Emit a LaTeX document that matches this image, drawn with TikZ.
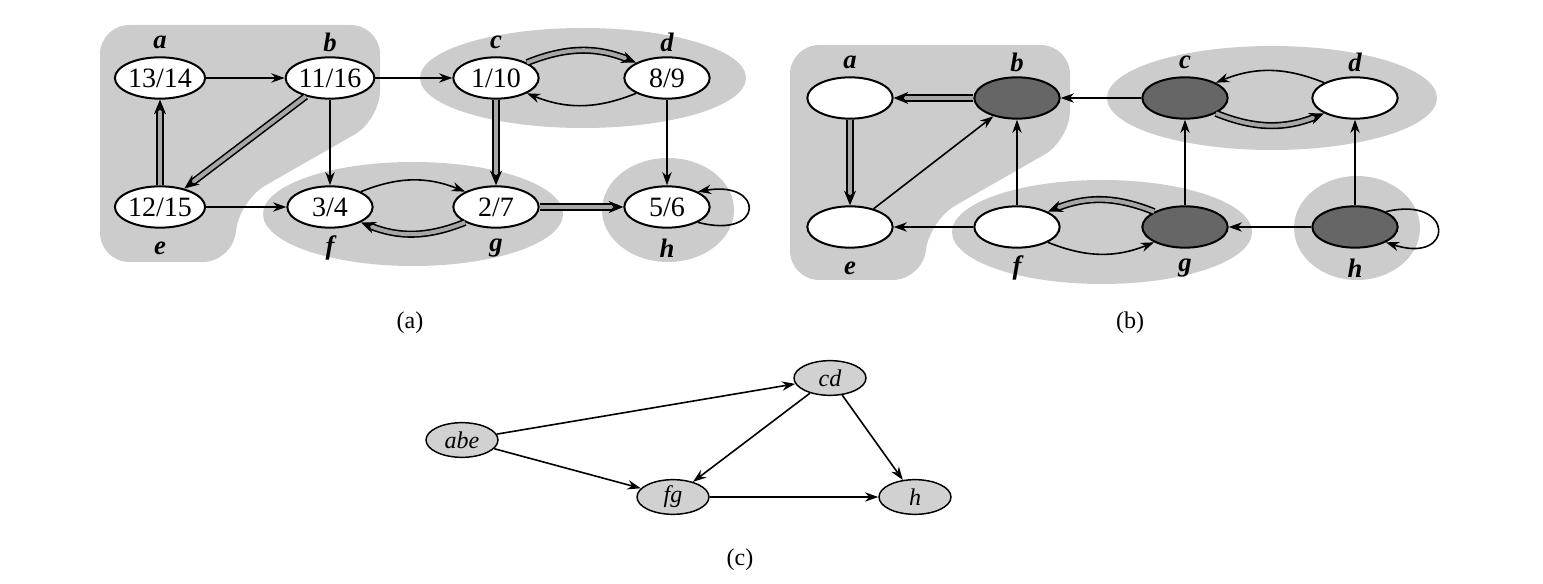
\documentclass[tikz,border=0pt]{standalone}
\usepackage{fontspec}
\setmainfont{Liberation Serif}
\usetikzlibrary{shapes.geometric,arrows.meta}
\begin{document}
\begin{tikzpicture}[x=0.75pt,y=-0.75pt,
  v/.style={ellipse,draw,line width=1.5pt,fill=white,minimum width=64pt,minimum height=31pt,inner sep=0pt,font=\fontsize{21}{24}\selectfont},
  vd/.style={v,fill=black!60},
  w/.style={ellipse,draw,line width=1.1pt,fill=black!18,minimum width=54pt,minimum height=26pt,inner sep=0pt,font=\fontsize{18}{20}\selectfont\itshape},
  lab/.style={font=\fontsize{20}{22}\selectfont\itshape\bfseries},
  captxt/.style={font=\fontsize{18}{20}\selectfont},
  e/.style={-{Stealth[length=10pt,width=7pt]},line width=1.2pt},
  t/.style={-{Stealth[length=11pt,width=9pt]},line width=1.2pt,double=black!35,double distance=3pt},
  blob/.style={fill=black!20,draw=none,rounded corners=22pt}]
\useasboundingbox (0,0) rectangle (1543,584);
% ---------- blobs (a)
\fill[blob] (100,25) -- (380,25) -- (380,120) -- (240,200) -- (232,262) -- (100,262) -- cycle;
\fill[black!20] (583,78) ellipse (163 and 50);
\fill[black!20] (413,214) ellipse (150 and 52);
\fill[black!20] (668,210) ellipse (66 and 52);
% ---------- blobs (b)
\fill[blob] (790,45) -- (1070,45) -- (1070,140) -- (930,220) -- (922,280) -- (790,280) -- cycle;
\fill[black!20] (1272,98) ellipse (165 and 52);
\fill[black!20] (1102,232) ellipse (150 and 52);
\fill[black!20] (1357,228) ellipse (63 and 52);
% ---------- (a)
\node[v] (a) at (160,78) {13/14};
\node[v] (b) at (330,78) {11/16};
\node[v] (c) at (496,78) {1/10};
\node[v] (d) at (667,78) {8/9};
\node[v] (e) at (160,207) {12/15};
\node[v] (f) at (330,207) {3/4};
\node[v] (g) at (496,207) {2/7};
\node[v] (h) at (667,207) {5/6};
\node[lab] (la) at (160,42) {a};
\node[lab] (lb) at (330,42) {b};
\node[lab] (lc) at (496,42) {c};
\node[lab] (ld) at (667,42) {d};
\node[lab] (le) at (160,248) {e};
\node[lab] (lf) at (330,248) {f};
\node[lab] (lg) at (496,248) {g};
\node[lab] (lh) at (667,248) {h};
\draw[e] (a) -- (b);
\draw[e] (b) -- (c);
\draw[e] (b) -- (f);
\draw[e] (e) -- (f);
\draw[e] (d) -- (h);
\draw[t] (e) -- (a);
\draw[t] (b) -- (e);
\draw[t] (c) -- (g);
\draw[t] (g) -- (h);
\draw[t] (c.north east) to[bend left=22] (d.north west);
\draw[e] (d.south west) to[bend left=22] (c.south east);
\draw[e] (f.north east) to[bend left=22] (g.north west);
\draw[t] (g.south west) to[bend left=22] (f.south east);
\draw[e] (h.south east) .. controls (765,240) and (765,180) .. (h.north east);
\node[captxt] (ca) at (410,323) {(a)};
% ---------- (b)
\node[v] (A) at (850,98) {};
\node[vd] (B) at (1017,98) {};
\node[vd] (C) at (1185,98) {};
\node[v] (D) at (1355,98) {};
\node[v] (E) at (850,227) {};
\node[v] (F) at (1017,227) {};
\node[vd] (G) at (1185,227) {};
\node[vd] (H) at (1355,227) {};
\node[lab] (lA) at (850,62) {a};
\node[lab] (lB) at (1017,62) {b};
\node[lab] (lC) at (1185,62) {c};
\node[lab] (lD) at (1355,62) {d};
\node[lab] (lE) at (850,268) {e};
\node[lab] (lF) at (1017,268) {f};
\node[lab] (lG) at (1185,268) {g};
\node[lab] (lH) at (1355,268) {h};
\draw[t] (B) -- (A);
\draw[t] (A) -- (E);
\draw[e] (E) -- (B);
\draw[e] (F) -- (B);
\draw[e] (C) -- (B);
\draw[e] (F) -- (E);
\draw[e] (G) -- (C);
\draw[e] (H) -- (G);
\draw[e] (H) -- (D);
\draw[e] (D.north west) to[bend right=22] (C.north east);
\draw[t] (C.south east) to[bend right=22] (D.south west);
\draw[t] (G.north west) to[bend right=22] (F.north east);
\draw[e] (F.south east) to[bend right=22] (G.south west);
\draw[e] (H.north east) .. controls (1455,195) and (1455,265) .. (H.south east);
\node[captxt] (cb) at (1130,323) {(b)};
% ---------- (c)
\node[w] (abe) at (462,440) {abe};
\node[w] (cd) at (830,378) {cd};
\node[w] (fg) at (673,497) {fg};
\node[w] (hh) at (915,497) {h};
\draw[e] (abe) -- (cd);
\draw[e] (abe) -- (fg);
\draw[e] (cd) -- (fg);
\draw[e] (cd) -- (hh);
\draw[e] (fg) -- (hh);
\node[captxt] (cc) at (740,560) {(c)};
\end{tikzpicture}
\end{document}
